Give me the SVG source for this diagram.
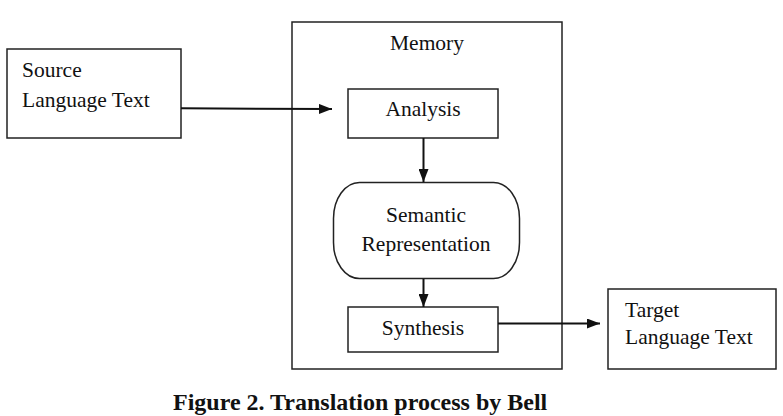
<svg xmlns="http://www.w3.org/2000/svg" width="783" height="416" viewBox="0 0 783 416">
<style>
.box{fill:#fff;stroke:#222;stroke-width:1.5}
text{font-family:"Liberation Serif","Times New Roman","DejaVu Serif",serif;fill:#111}
.t{font-size:21.5px}
.c{text-anchor:middle}
.cap{font-size:24px;font-weight:bold}
.conn{stroke:#111;stroke-width:2;fill:none;marker-end:url(#ah)}
</style>
<defs>
<marker id="ah" markerWidth="13" markerHeight="10" refX="13" refY="5" orient="auto" markerUnits="userSpaceOnUse">
<path d="M0,0 L13,5 L0,10 Z" fill="#111"/>
</marker>
</defs>
<rect width="783" height="416" fill="#fff"/>
<g id="memory">
<rect class="box" x="292" y="22" width="270" height="347"/>
<text class="t c" x="427" y="50" font-family="Liberation Serif, serif">Memory</text>
</g>
<g id="source">
<rect class="box" x="7" y="49" width="174" height="89"/>
<text class="t" x="22" y="77" font-family="Liberation Serif, serif">Source</text>
<text class="t" x="22" y="107" font-family="Liberation Serif, serif">Language Text</text>
</g>
<g id="analysis">
<rect class="box" x="348" y="89" width="150" height="49"/>
<text class="t c" x="423" y="116" font-family="Liberation Serif, serif">Analysis</text>
</g>
<g id="semantic">
<rect class="box" x="333.5" y="182.5" width="186" height="96" rx="26" ry="36"/>
<text class="t c" x="426" y="222" font-family="Liberation Serif, serif">Semantic</text>
<text class="t c" x="426" y="251" font-family="Liberation Serif, serif">Representation</text>
</g>
<g id="synthesis">
<rect class="box" x="348" y="307" width="150" height="45"/>
<text class="t c" x="423" y="335" font-family="Liberation Serif, serif">Synthesis</text>
</g>
<g id="target">
<rect class="box" x="608" y="289" width="168" height="80"/>
<text class="t" x="625" y="317" font-family="Liberation Serif, serif">Target</text>
<text class="t" x="625" y="344" font-family="Liberation Serif, serif">Language Text</text>
</g>
<g id="connectors">
<line class="conn" x1="181" y1="108.3" x2="332" y2="109"/>
<line class="conn" x1="423.5" y1="138" x2="423.5" y2="182"/>
<line class="conn" x1="423.5" y1="279" x2="423.5" y2="307"/>
<line class="conn" x1="498" y1="323.5" x2="600" y2="323.5"/>
</g>
<text class="cap" x="173" y="410" font-family="Liberation Serif, serif">Figure 2. Translation process by Bell</text>
</svg>
